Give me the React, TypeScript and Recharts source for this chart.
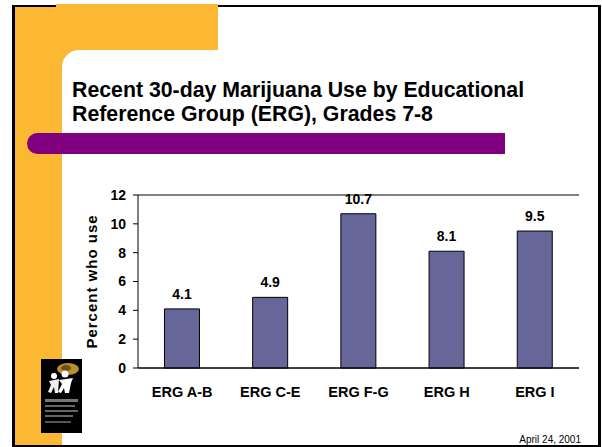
// Slide: Recent 30-day marijuana use by ERG, grades 7-8
import { BarChart, Bar, XAxis, YAxis, CartesianGrid, LabelList, Label } from 'recharts'

const categories = ['ERG A-B', 'ERG C-E', 'ERG F-G', 'ERG H', 'ERG I']
const percentWhoUse = [4.1, 4.9, 10.7, 8.1, 9.5]
const yTicks = [0, 2, 4, 6, 8, 10, 12]
// category boundaries for the tick marks under the x axis
const boundaryTicks = [0, 1, 2, 3, 4, 5]

const data = categories.map((name, i) => ({ name, value: percentWhoUse[i] }))

const FONT = '"Liberation Sans", Arial, Helvetica, sans-serif'
const ORANGE = '#FDB833'
const PURPLE = '#800080'
const BAR = '#666699'

function Logo() {
  return (
    <svg width={41} height={74} style={{ position: 'absolute', left: 41, top: 359 }}>
      <rect width={41} height={74} fill="#000" />
      <ellipse cx={27} cy={10} rx={11} ry={6} fill="#B8912E" />
      <ellipse cx={25} cy={9} rx={5} ry={3} fill="#6b5218" />
      <circle cx={13} cy={17} r={3} fill="#fff" />
      <circle cx={24} cy={15} r={3.5} fill="#fff" />
      <path d="M8 22 L18 20 L17 34 L14 34 L13 28 L10 34 L7 33 L10 26 Z" fill="#eee" />
      <path d="M18 21 L32 19 L30 24 L28 34 L24 34 L23 29 L20 34 L17 33 L21 25 Z" fill="#fff" />
      <rect x={4} y={40} width={33} height={3} fill="#777" />
      <rect x={4} y={46} width={30} height={2} fill="#666" />
      <rect x={4} y={51} width={33} height={2} fill="#666" />
      <rect x={4} y={56} width={28} height={2} fill="#666" />
      <rect x={4} y={62} width={26} height={2} fill="#555" />
    </svg>
  )
}

export default function App() {
  return (
    <div style={{ position: 'relative', width: 602, height: 447, background: '#fff', overflow: 'hidden', fontFamily: FONT }}>
      <style>{'body{margin:0}'}</style>

      {/* orange L-shaped backdrop with the rounded white cut-out */}
      <div style={{ position: 'absolute', left: 14, top: 6, width: 204, height: 441, background: ORANGE }} />
      <div style={{ position: 'absolute', left: 62, top: 50, width: 540, height: 397, background: '#fff', borderTopLeftRadius: 17 }} />

      {/* slide frame */}
      <div style={{ position: 'absolute', left: 12, top: 5, width: 583, height: 438, borderLeft: '3px solid #000', borderTop: '2px solid #000', borderRight: '3px solid #000', borderBottom: '2px solid #000', boxSizing: 'content-box', pointerEvents: 'none' }} />
      <div style={{ position: 'absolute', left: 56, top: 4, width: 162, height: 4, background: ORANGE }} />

      {/* purple rule */}
      <div style={{ position: 'absolute', left: 27, top: 133, width: 478, height: 21, background: PURPLE, borderTopLeftRadius: 10.5, borderBottomLeftRadius: 10.5 }} />

      <div style={{ position: 'absolute', left: 72, top: 78, fontSize: 21.3, lineHeight: '24px', fontWeight: 'bold', color: '#000', whiteSpace: 'nowrap' }}>
        Recent 30-day Marijuana Use by Educational
        <br />
        Reference Group (ERG), Grades 7-8
      </div>

      <Logo />

      <div style={{ position: 'absolute', right: 21, top: 434, fontSize: 10, color: '#000', whiteSpace: 'nowrap' }}>April 24, 2001</div>

      <div style={{ position: 'absolute', left: 0, top: 0 }}>
        <BarChart
          width={602}
          height={447}
          data={data}
          margin={{ top: 195, right: 23, bottom: 49, left: 46 }}
          barCategoryGap="30%"
        >
          <CartesianGrid horizontal vertical={false} stroke="#000" strokeWidth={1} />
          <XAxis
            xAxisId="bounds"
            type="number"
            domain={[0, boundaryTicks.length - 1]}
            ticks={boundaryTicks}
            allowDataOverflow
            height={0}
            tick={false}
            axisLine={false}
            tickLine={{ stroke: '#000' }}
            tickSize={5}
          />
          <XAxis
            xAxisId="cat"
            dataKey="name"
            height={30}
            interval={0}
            axisLine={{ stroke: '#000' }}
            tickLine={false}
            tickSize={6}
            tickMargin={13}
            tick={{ fill: '#000', fontSize: 14.5, fontWeight: 'bold', fontFamily: FONT }}
          />
          <YAxis
            yAxisId="left"
            width={92}
            domain={[0, 12]}
            ticks={yTicks}
            interval={0}
            axisLine={{ stroke: '#000' }}
            tickLine={{ stroke: '#000' }}
            tickSize={5}
            tickMargin={7}
            tick={{ fill: '#000', fontSize: 14, fontWeight: 'bold', fontFamily: FONT }}
          >
            <Label
              value="Percent who use"
              angle={-90}
              position="center"
              style={{ fill: '#000', fontSize: 15, fontWeight: 'bold', fontFamily: FONT, letterSpacing: 1 }}
            />
          </YAxis>
          <YAxis
            yAxisId="right"
            orientation="right"
            width={0}
            domain={[0, 12]}
            tick={false}
            tickLine={false}
            axisLine={{ stroke: '#000' }}
          />
          <Bar
            dataKey="value"
            xAxisId="cat"
            yAxisId="left"
            fill={BAR}
            stroke="#000"
            strokeWidth={1}
            isAnimationActive={false}
          >
            <LabelList
              dataKey="value"
              position="top"
              offset={10}
              style={{ fill: '#000', fontSize: 14, fontWeight: 'bold', fontFamily: FONT }}
            />
          </Bar>
        </BarChart>
      </div>
    </div>
  )
}
